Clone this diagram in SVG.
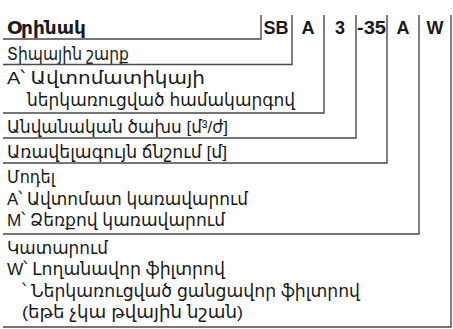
<svg xmlns="http://www.w3.org/2000/svg" width="453" height="329" viewBox="0 0 453 329">
<style>
text{font-family:"Liberation Sans","DejaVu Sans",sans-serif;font-size:17px;fill:#1a1a1a}
.b{font-family:"DejaVu Sans",sans-serif;font-weight:bold;font-size:17px}
.c{font-weight:bold;font-size:18px;text-anchor:middle}
.ln{stroke:#4a4a4a;stroke-width:1.4;fill:none}
</style>
<rect width="453" height="329" fill="#fff"/>
<g id="header">
<text class="b" x="7" y="34" textLength="79" lengthAdjust="spacingAndGlyphs">Օրինակ</text>
<text class="c" x="276" y="34">SB</text>
<text class="c" x="308" y="34">A</text>
<text class="c" x="340" y="34">3</text>
<text class="c" x="371.5" y="34" textLength="29" lengthAdjust="spacingAndGlyphs">-35</text>
<text class="c" x="403" y="34">A</text>
<text class="c" x="435" y="34">W</text>
</g>
<g id="series"><text x="7" y="59.5" textLength="122" lengthAdjust="spacingAndGlyphs">Տիպային շարք</text></g>
<g id="automation"><text x="7" y="84" textLength="198" lengthAdjust="spacingAndGlyphs">A՝ Ավտոմատիկայի</text><text x="27" y="106" textLength="268" lengthAdjust="spacingAndGlyphs">ներկառուցված համակարգով</text></g>
<g id="flow"><text x="7" y="133" textLength="221" lengthAdjust="spacingAndGlyphs">Անվանական ծախս [մ³/ժ]</text></g>
<g id="head"><text x="7" y="158" textLength="220" lengthAdjust="spacingAndGlyphs">Առավելագույն ճնշում [մ]</text></g>
<g id="model"><text x="7" y="183" textLength="48" lengthAdjust="spacingAndGlyphs">Մոդել</text><text x="7" y="204.5" textLength="241" lengthAdjust="spacingAndGlyphs">A՝ Ավտոմատ կառավարում</text><text x="7" y="226" textLength="218" lengthAdjust="spacingAndGlyphs">M՝ Ձեռքով կառավարում</text></g>
<g id="execution"><text x="7" y="254" textLength="101" lengthAdjust="spacingAndGlyphs">Կատարում</text><text x="7" y="275" textLength="218" lengthAdjust="spacingAndGlyphs">W՝ Լողանավոր ֆիլտրով</text><text x="22" y="296.5" textLength="338" lengthAdjust="spacingAndGlyphs">՝ Ներկառուցված ցանցավոր ֆիլտրով</text><text x="22" y="318" textLength="221" lengthAdjust="spacingAndGlyphs">(եթե չկա թվային նշան)</text></g>
<g id="connectors" class="ln">
<polyline points="3,39 261,39 261,15"/>
<polyline points="3,64.5 292,64.5 292,15"/>
<polyline points="3,113 324,113 324,15"/>
<polyline points="3,138 356,138 356,15"/>
<polyline points="3,163 387,163 387,15"/>
<polyline points="3,234 419,234 419,15"/>
<polyline points="3,327 451,327 451,15"/>
</g>
</svg>
